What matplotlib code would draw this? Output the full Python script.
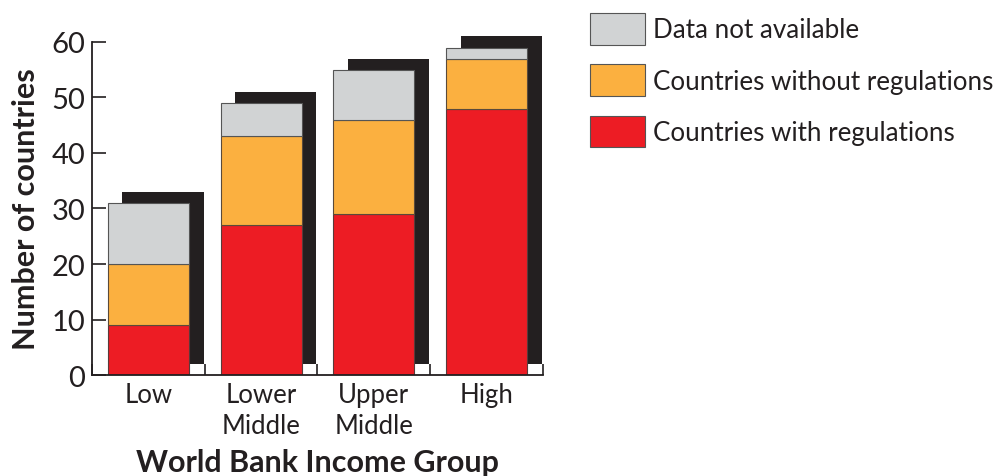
import matplotlib.pyplot as plt
import numpy as np
from matplotlib.patches import Patch

plt.rcParams['font.family'] = ['Lato', 'DejaVu Sans']

groups = ['Low', 'Lower\nMiddle', 'Upper\nMiddle', 'High']
with_reg = [9, 27, 29, 48]
without_reg = [11, 16, 17, 9]
not_avail = [11, 6, 9, 2]

red = '#ED1C24'
orange = '#FBB040'
grey = '#D1D3D4'
dark = '#231F20'

x = np.arange(len(groups))
totals = np.array(with_reg) + np.array(without_reg) + np.array(not_avail)
width = 0.72

fig = plt.figure(figsize=(9.97, 4.77), dpi=100)
ax = fig.add_axes([0.0923, 0.2117, 0.4523, 0.6982])

# drop shadow behind each stack
ax.bar(x + 0.13, totals, width, bottom=2, color=dark, zorder=1, clip_on=False)

ax.bar(x, with_reg, width, color=red, edgecolor='#5a3a3a', linewidth=0.8, zorder=2)
ax.bar(x, without_reg, width, bottom=with_reg, color=orange,
       edgecolor='#5a4a3a', linewidth=0.8, zorder=2)
ax.bar(x, not_avail, width, bottom=np.array(with_reg) + np.array(without_reg),
       color=grey, edgecolor='#555555', linewidth=0.8, zorder=2)

ax.set_xlim(-0.5, 3.5)
ax.set_ylim(0, 60)
for s in ['top', 'right']:
    ax.spines[s].set_visible(False)
for s in ['left', 'bottom']:
    ax.spines[s].set_color(dark)
    ax.spines[s].set_linewidth(1.3)

ax.set_yticks(range(0, 61, 10))
ax.tick_params(axis='y', direction='in', length=10, width=1.2, color=dark,
               labelsize=21, labelcolor=dark, pad=5)
ax.set_xticks(x)
ax.set_xticklabels(groups, linespacing=1.3)
ax.set_xticks(np.arange(-0.5, 4, 1), minor=True)
ax.tick_params(axis='x', which='major', length=0, labelsize=18.5,
               labelcolor=dark, pad=5)
ax.tick_params(axis='x', which='minor', direction='in', length=8, width=1.2,
               color=dark)

ax.set_ylabel('Number of countries', fontsize=22, fontweight='bold',
              color=dark, labelpad=8)
ax.set_xlabel('World Bank Income Group', fontsize=22, fontweight='bold',
              color=dark, labelpad=7)

handles = [Patch(facecolor=grey, edgecolor='#555555', linewidth=0.8),
           Patch(facecolor=orange, edgecolor='#555555', linewidth=0.8),
           Patch(facecolor=red, edgecolor='#555555', linewidth=0.8)]
labels = ['Data not available', 'Countries without regulations',
          'Countries with regulations']
fig.legend(handles, labels, loc='upper left', bbox_to_anchor=(0.592, 0.971),
           frameon=False, fontsize=18.7, handlelength=2.12, handleheight=1.5,
           labelspacing=0.76, handletextpad=0.31, borderaxespad=0,
           borderpad=0, labelcolor=dark)

fig.savefig('out.png', dpi=100)
